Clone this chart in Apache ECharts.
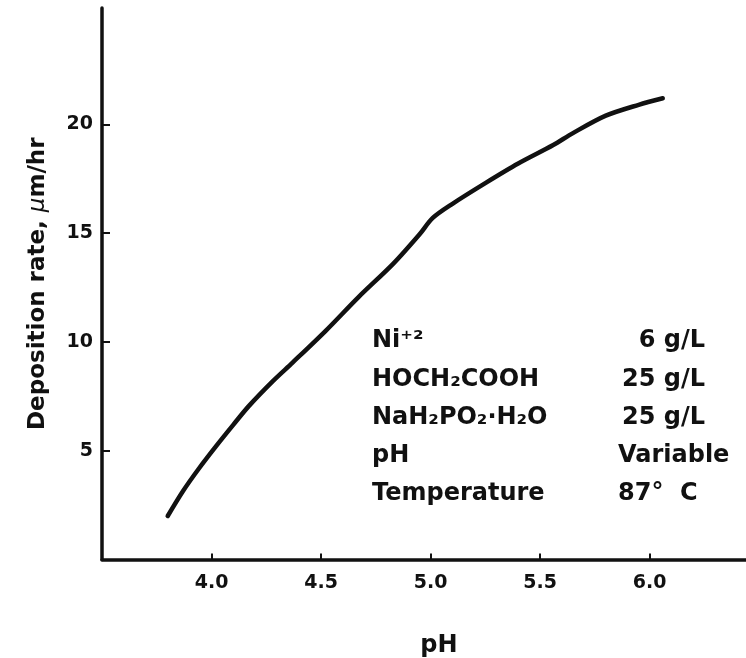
<!DOCTYPE html>
<html>
<head>
<meta charset="utf-8">
<script src="https://cdn.jsdelivr.net/npm/echarts@6/dist/echarts.min.js"></script>
<style>
  html, body { margin: 0; padding: 0; background: #fff; }
  #chart { width: 746px; height: 658px; }
</style>
</head>
<body>
<div id="chart"></div>
<script>
// 曲线数据 (pH, 沉积速率 μm/hr)
const phValues = [3.80, 3.87, 3.94, 4.02, 4.10, 4.17, 4.28, 4.37, 4.52, 4.67, 4.83, 4.95, 5.01, 5.10, 5.25, 5.40, 5.56, 5.65, 5.80, 5.95, 6.06]
const rateValues = [2.0, 3.15, 4.15, 5.2, 6.2, 7.05, 8.2, 9.05, 10.5, 12.05, 13.6, 14.95, 15.7, 16.35, 17.3, 18.2, 19.05, 19.6, 20.4, 20.9, 21.2]

// 刻度
const xTicks = [4.0, 4.5, 5.0, 5.5, 6.0]
const yTicks = [5, 10, 15, 20]

// 镀液组成
const bathNames = ['Ni⁺²', 'HOCH₂COOH', 'NaH₂PO₂·H₂O', 'pH', 'Temperature']
const bathValues = ['6 g/L', '25 g/L', '25 g/L', 'Variable', '87°  C']

const FONT = 'DejaVu Sans'
const INK = '#111'

const chart = echarts.init(document.getElementById('chart'))

// 组成表文字
const graphics = []
bathNames.forEach((name, i) => {
  const y = 343 + i * 38.3
  graphics.push({
    type: 'text', left: 372, top: y - 14,
    style: { text: name, font: 'bold 24px ' + FONT, fill: INK }
  })
  // 6 g/L 与 25 g/L 右对齐
  const isNum = /g\/L/.test(bathValues[i])
  graphics.push({
    type: 'text',
    left: isNum ? null : 618,
    right: isNum ? 41 : null,
    top: y - 14,
    style: { text: bathValues[i], font: 'bold 24px ' + FONT, fill: INK }
  })
})

const option = {
  animation: false,
  backgroundColor: '#fff',
  grid: {
    left: 102,
    right: 0,
    top: 8,
    bottom: 98.5,
    outerBoundsMode: 'none'
  },
  xAxis: {
    type: 'value',
    min: 3.5,
    max: 6.44,
    name: 'pH',
    nameLocation: 'middle',
    nameGap: 74,
    nameTextStyle: { fontFamily: FONT, fontWeight: 'bold', fontSize: 24, color: INK, padding: [0, 0, 0, 30] },
    axisLine: { onZero: false, lineStyle: { color: INK, width: 3.5 } },
    axisTick: { inside: true, length: 6, customValues: xTicks, lineStyle: { color: INK, width: 2 } },
    axisLabel: {
      customValues: xTicks,
      formatter: v => v.toFixed(1),
      margin: 14,
      fontFamily: FONT, fontWeight: 'bold', fontSize: 19, color: INK
    },
    splitLine: { show: false }
  },
  yAxis: {
    type: 'value',
    min: 0,
    max: 25.35,
    name: '{a|Deposition rate, }{mu|μ}{a|m/hr}',
    nameLocation: 'middle',
    nameGap: 52,
    nameTextStyle: {
      rich: {
        a: { fontFamily: FONT, fontWeight: 'bold', fontSize: 23, color: INK },
        mu: { fontFamily: FONT, fontStyle: 'italic', fontSize: 23, color: INK }
      }
    },
    axisLine: { onZero: false, lineStyle: { color: INK, width: 3.5 } },
    axisTick: { inside: true, length: 8, customValues: yTicks, lineStyle: { color: INK, width: 2 } },
    axisLabel: {
      customValues: yTicks,
      margin: 9,
      fontFamily: FONT, fontWeight: 'bold', fontSize: 19, color: INK
    },
    splitLine: { show: false }
  },
  series: [
    {
      type: 'line',
      data: phValues.map((x, i) => [x, rateValues[i]]),
      showSymbol: false,
      smooth: 0.3,
      lineStyle: { color: INK, width: 4.5, cap: 'round' }
    }
  ],
  graphic: graphics
}

chart.setOption(option)
</script>
</body>
</html>
